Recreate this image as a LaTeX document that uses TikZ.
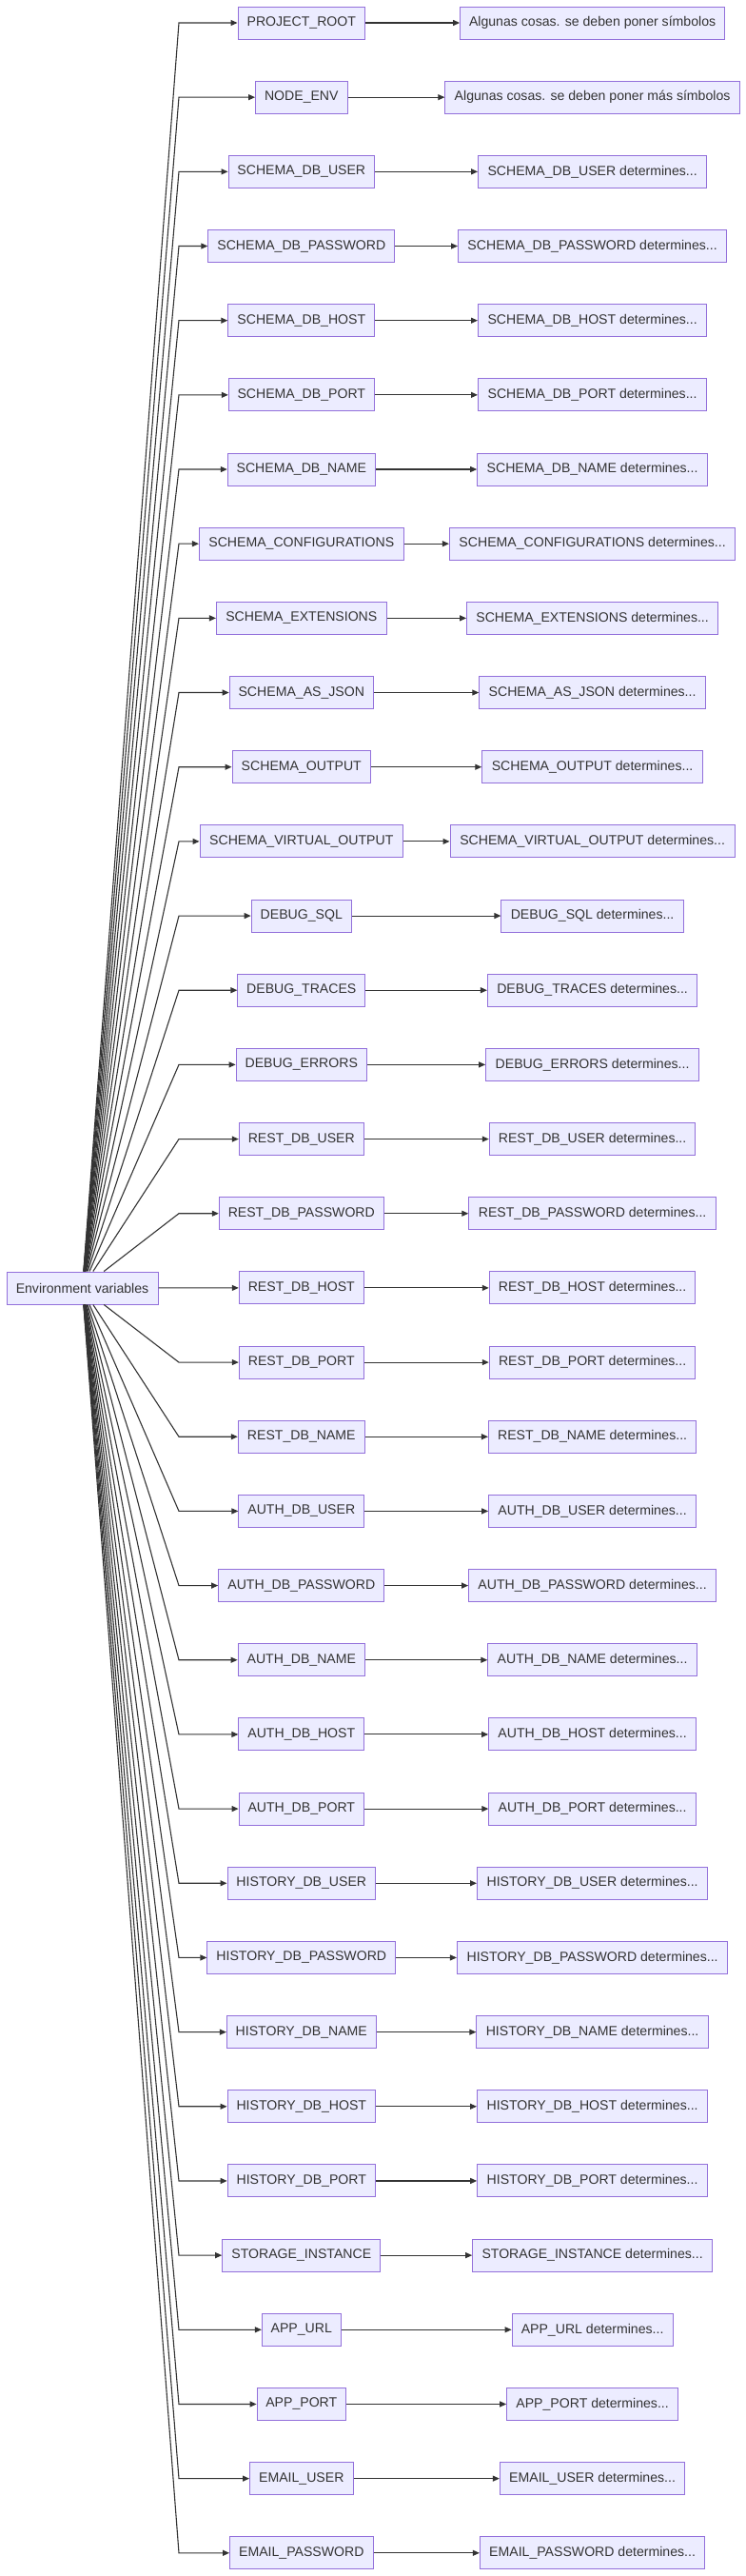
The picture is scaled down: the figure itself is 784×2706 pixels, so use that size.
\documentclass[tikz,border=0pt]{standalone}
\usepackage{fontspec}
\setmainfont{Liberation Sans}
\usetikzlibrary{arrows.meta}
\definecolor{nodefill}{HTML}{ECECFF}
\definecolor{nodeline}{HTML}{9370DB}
\definecolor{edgecol}{HTML}{333333}
\newcommand\envrow[5]{%
  \node[varbox, minimum width=#3pt] (m#1) at (316.8, {24+78.17*#1}) {#2};
  \node[varbox, minimum width=#5pt] (d#1) at (622.6, {24+78.17*#1}) {#4};
  \coordinate (c#1) at (188, {24+78.17*#1});
  \draw[edge] (env) -- (c#1) -- (m#1);
  \draw[edge] (m#1) -- (d#1);
}
\begin{document}
\begin{tikzpicture}[x=1pt, y=-1pt,
  varbox/.style={draw=nodeline, fill=nodefill, line width=1pt, minimum height=34pt,
    inner sep=0pt, text=edgecol, font=\fontsize{14.1}{16}\selectfont},
  edge/.style={draw=edgecol, line width=1.1pt, -{Triangle[length=7pt,width=6pt]}}]
\fill[white] (0,0) rectangle (784,2706);
\useasboundingbox (0,0) rectangle (784,2706);
\node[varbox, minimum width=159pt] (env) at (86.5,1353) {Environment variables};
\envrow{0}{PROJECT\_ROOT}{133.5}{Algunas cosas. se deben poner símbolos}{278}
\envrow{1}{NODE\_ENV}{96.5}{Algunas cosas. se deben poner más símbolos}{309.5}
\envrow{2}{SCHEMA\_DB\_USER}{153.5}{SCHEMA\_DB\_USER determines...}{240}
\envrow{3}{SCHEMA\_DB\_PASSWORD}{196}{SCHEMA\_DB\_PASSWORD determines...}{282.2}
\envrow{4}{SCHEMA\_DB\_HOST}{154}{SCHEMA\_DB\_HOST determines...}{240.2}
\envrow{5}{SCHEMA\_DB\_PORT}{153}{SCHEMA\_DB\_PORT determines...}{240.2}
\envrow{6}{SCHEMA\_DB\_NAME}{155}{SCHEMA\_DB\_NAME determines...}{241.8}
\envrow{7}{SCHEMA\_CONFIGURATIONS}{214.7}{SCHEMA\_CONFIGURATIONS determines...}{300.4}
\envrow{8}{SCHEMA\_EXTENSIONS}{178.7}{SCHEMA\_EXTENSIONS determines...}{264}
\envrow{9}{SCHEMA\_AS\_JSON}{151.2}{SCHEMA\_AS\_JSON determines...}{237.7}
\envrow{10}{SCHEMA\_OUTPUT}{145.6}{SCHEMA\_OUTPUT determines...}{231.7}
\envrow{11}{SCHEMA\_VIRTUAL\_OUTPUT}{213.5}{SCHEMA\_VIRTUAL\_OUTPUT determines...}{299.2}
\envrow{12}{DEBUG\_SQL}{105.2}{DEBUG\_SQL determines...}{191.3}
\envrow{13}{DEBUG\_TRACES}{133.8}{DEBUG\_TRACES determines...}{220.4}
\envrow{14}{DEBUG\_ERRORS}{137.4}{DEBUG\_ERRORS determines...}{224}
\envrow{15}{REST\_DB\_USER}{131}{REST\_DB\_USER determines...}{216.7}
\envrow{16}{REST\_DB\_PASSWORD}{173}{REST\_DB\_PASSWORD determines...}{259.6}
\envrow{17}{REST\_DB\_HOST}{131}{REST\_DB\_HOST determines...}{216.7}
\envrow{18}{REST\_DB\_PORT}{131}{REST\_DB\_PORT determines...}{216.7}
\envrow{19}{REST\_DB\_NAME}{133}{REST\_DB\_NAME determines...}{218.3}
\envrow{20}{AUTH\_DB\_USER}{131.8}{AUTH\_DB\_USER determines...}{217.9}
\envrow{21}{AUTH\_DB\_PASSWORD}{174.2}{AUTH\_DB\_PASSWORD determines...}{260}
\envrow{22}{AUTH\_DB\_NAME}{133.4}{AUTH\_DB\_NAME determines...}{219.5}
\envrow{23}{AUTH\_DB\_HOST}{131.8}{AUTH\_DB\_HOST determines...}{217.9}
\envrow{24}{AUTH\_DB\_PORT}{131.4}{AUTH\_DB\_PORT determines...}{217.5}
\envrow{25}{HISTORY\_DB\_USER}{155.6}{HISTORY\_DB\_USER determines...}{242.2}
\envrow{26}{HISTORY\_DB\_PASSWORD}{197.7}{HISTORY\_DB\_PASSWORD determines...}{284.3}
\envrow{27}{HISTORY\_DB\_NAME}{156.8}{HISTORY\_DB\_NAME determines...}{243.4}
\envrow{28}{HISTORY\_DB\_HOST}{155.6}{HISTORY\_DB\_HOST determines...}{242.2}
\envrow{29}{HISTORY\_DB\_PORT}{155.2}{HISTORY\_DB\_PORT determines...}{241.8}
\envrow{30}{STORAGE\_INSTANCE}{166.2}{STORAGE\_INSTANCE determines...}{251.9}
\envrow{31}{APP\_URL}{82.9}{APP\_URL determines...}{169}
\envrow{32}{APP\_PORT}{93.4}{APP\_PORT determines...}{179.9}
\envrow{33}{EMAIL\_USER}{108.5}{EMAIL\_USER determines...}{194.5}
\envrow{34}{EMAIL\_PASSWORD}{150.5}{EMAIL\_PASSWORD determines...}{236.5}
\end{tikzpicture}
\end{document}
